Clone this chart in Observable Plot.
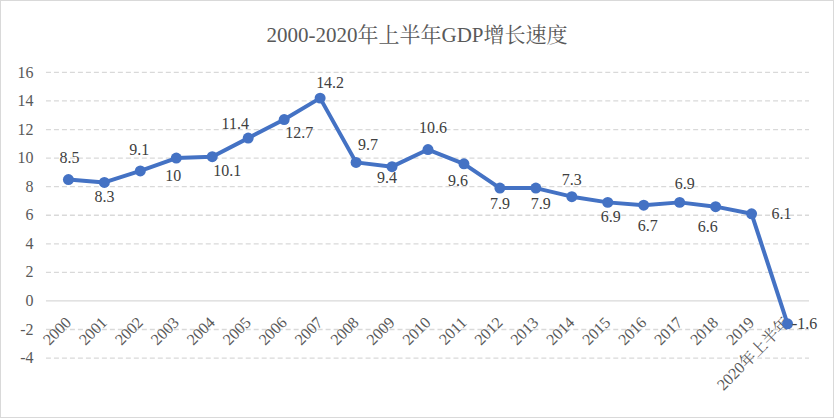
<!DOCTYPE html>
<html>
<head>
<meta charset="utf-8">
<script src="https://cdn.jsdelivr.net/npm/d3@7"></script>
<script src="https://cdn.jsdelivr.net/npm/@observablehq/plot@0.6"></script>
<style>
  html, body { margin: 0; padding: 0; background: #fff; }
  #wrap { position: relative; width: 832px; height: 416px; border: 1px solid #d9d9d9; overflow: hidden;
    font-family: "Liberation Serif", "Noto Serif CJK SC", "Noto Sans CJK SC", serif; }
  #title { position: absolute; left: 0; right: 0; top: 17px; text-align: center; font-size: 21px; color: #595959; }
  #chart { position: absolute; left: -1px; top: -1px; }
  #chart svg, #chart svg text { font-family: "Liberation Serif", "Noto Serif CJK SC", "Noto Sans CJK SC", serif !important; }
</style>
</head>
<body>
<div id="wrap">
  <div id="title">2000-2020年上半年GDP增长速度</div>
  <div id="chart"></div>
</div>
<script>
const categories = ["2000","2001","2002","2003","2004","2005","2006","2007","2008","2009","2010",
  "2011","2012","2013","2014","2015","2016","2017","2018","2019","2020年上半年"];
const growth = [8.5, 8.3, 9.1, 10, 10.1, 11.4, 12.7, 14.2, 9.7, 9.4, 10.6, 9.6, 7.9, 7.9, 7.3, 6.9, 6.7, 6.9, 6.6, 6.1, -1.6];
const yTicks = [-4, -2, 0, 2, 4, 6, 8, 10, 12, 14, 16];

// label placement offsets (layout only)
const labelDx = [1, 0, -1, -3, 15, -13, 15, 10, 12, -5, 5, -6, 0, 5, 0, 3, 4, 5, -8, 30, 17];
const labelDy = [-22, 15, -21, 18, 14, -14, 13, -15, -18, 11, -22, 17, 16, 16, -17, 15, 21, -19, 20, 0, 0];

const data = categories.map((c, i) => ({cat: c, v: growth[i], dx: labelDx[i], dy: labelDy[i], i}));
const font = `"Liberation Serif", "Noto Serif CJK SC", "Noto Sans CJK SC", serif`;

const textMarks = data.map(d => Plot.text([d], {
  x: "cat", y: "v", text: e => String(e.v), dx: d.dx, dy: d.dy,
  fill: "#404040", fontSize: 16, fontFamily: font, lineAnchor: "middle", textAnchor: "middle"
}));

const chart = Plot.plot({
  width: 834,
  height: 418,
  marginTop: 72,
  marginBottom: 60,
  marginLeft: 46,
  marginRight: 24,
  style: { fontFamily: font, background: "transparent", overflow: "visible" },
  x: { type: "point", domain: categories, padding: 0.5, align: 0.5, axis: null },
  y: { domain: [-4, 16], ticks: yTicks, axis: null },
  marks: [
    Plot.ruleY(yTicks.filter(t => t !== 0), { stroke: "#d9d9d9", strokeWidth: 1.3, strokeDasharray: "5,3" }),
    Plot.ruleY(yTicks.filter(t => t === 0), { stroke: "#d9d9d9", strokeWidth: 1.3 }),
    Plot.axisY({ ticks: yTicks, tickSize: 0, tickPadding: 13, fontSize: 16, fontFamily: font, color: "#595959", label: null, tickFormat: d => String(d) }),
    Plot.text(categories, { x: d => d, y: () => 0, text: d => d, rotate: -45, textAnchor: "end",
      lineAnchor: "middle", dy: 19, dx: 0, fontSize: 16, fontFamily: font, fill: "#595959" }),
    Plot.line(data, { x: "cat", y: "v", stroke: "#4472C4", strokeWidth: 4, strokeLinejoin: "round", strokeLinecap: "round" }),
    Plot.dot(data, { x: "cat", y: "v", r: 5.5, fill: "#4472C4", stroke: "none" }),
    ...textMarks
  ]
});
document.getElementById("chart").appendChild(chart);
</script>
</body>
</html>
